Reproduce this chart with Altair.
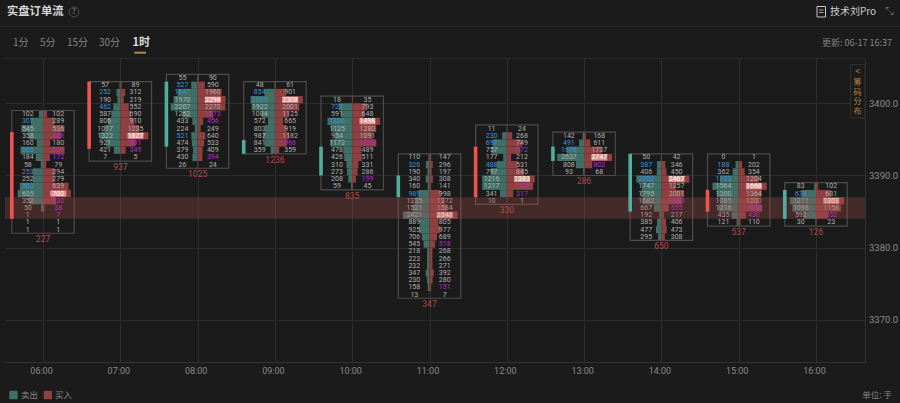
import altair as alt
import pandas as pd

BG = "#1b1b1b"
hours = [6, 7, 8, 9, 10, 11, 12, 13, 14, 15, 16]
tops = [3399, 3403, 3404, 3403, 3401, 3393, 3397, 3396, 3393, 3393, 3389]
deltas = [227, 937, 1025, 1236, 835, 347, 330, 286, 650, 537, 126]
body_top = [3396, 3403, 3403, 3394.9, 3394, 3390, 3394, 3394, 3393, 3388, 3388]
body_low = [3384, 3393.7, 3394, 3393, 3390, 3387, 3387, 3392, 3385, 3385, 3384]
body_side = ["up", "up", "down", "down", "down", "down", "up", "down", "down", "up", "down"]

sell = [
    [102, 307, 545, 358, 160, 565, 184, 58, 253, 252, 583, 635, 352, 50, 1, 1, 1],
    [57, 252, 190, 462, 587, 806, 1017, 1322, 921, 421, 7],
    [55, 527, 1647, 1970, 2207, 1262, 433, 224, 521, 474, 379, 430, 26],
    [48, 854, 2009, 1922, 1084, 572, 803, 987, 841, 359],
    [18, 722, 591, 1326, 1125, 954, 1172, 478, 426, 310, 273, 208, 59],
    [110, 326, 190, 340, 160, 989, 1325, 1521, 2421, 889, 925, 706, 545, 218, 223, 232, 347, 230, 158, 13],
    [11, 230, 697, 757, 177, 488, 797, 1216, 1217, 341, 10],
    [142, 491, 1676, 2637, 808, 93],
    [50, 387, 406, 2202, 1747, 1795, 1682, 667, 192, 385, 477, 295],
    [0, 188, 362, 1123, 1564, 1300, 1085, 1216, 435, 121],
    [83, 678, 1211, 1098, 592, 30],
]
buy = [
    [102, 289, 536, 446, 180, 539, 172, 79, 294, 279, 639, 702, 330, 38, 7, 1, 1],
    [89, 312, 219, 552, 690, 910, 1235, 1827, 991, 349, 5],
    [90, 590, 1960, 2298, 2270, 1273, 456, 249, 640, 533, 409, 394, 24],
    [61, 901, 2308, 2001, 1125, 665, 919, 1182, 966, 359],
    [35, 793, 648, 1498, 1280, 1091, 1293, 489, 511, 331, 286, 199, 45],
    [147, 296, 197, 308, 141, 998, 1372, 1584, 2548, 805, 977, 689, 518, 268, 266, 271, 392, 280, 151, 7],
    [24, 268, 749, 672, 212, 531, 845, 1383, 1300, 317, 1],
    [168, 611, 1737, 2747, 802, 68],
    [42, 346, 450, 2467, 1257, 2001, 1823, 655, 217, 406, 473, 308],
    [1, 202, 354, 1204, 1668, 1364, 1200, 1398, 430, 110],
    [102, 681, 1303, 1158, 552, 23],
]
blue_rows = [[1, 5, 8, 10], [1, 3], [1, 2, 8], [1, 2], [1, 3], [1, 5], [1, 2, 5], [1, 2], [1, 3], [1, 3], [1]]
purple_rows = [[3, 5, 6, 12, 13, 14], [8, 9], [5, 6, 11], [8], [6, 11], [12, 18], [3, 8, 9], [4], [6, 7], [7, 8], [4]]
band_top, band_low = 3387, 3384
y_ticks = [3370, 3380, 3390, 3400]

C_SELL, C_BUY = "#3f6f66", "#8f3f40"
TONES = {"plain": "#b0b0b0", "blue": "#3b93dc", "purple": "#b52bcf", "peak": "#ffffff"}
SIDES = {"sell": C_SELL, "buy": C_BUY, "up": "#f0544f", "down": "#52ae9c"}
PX = 77.3
BAR_W, TXT_OFF, BOX_HALF = 28 / PX, 15.2 / PX, 31.2 / PX
BODY_A, BODY_B = 33 / PX, 29.4 / PX
PEAK_HALF = 8 / PX

bars, labels, peaks, boxes, bodies = [], [], [], [], []
for i, h in enumerate(hours):
    peak = max(max(sell[i]), max(buy[i]))
    top = tops[i]
    n = len(sell[i])
    boxes.append({"x": h - BOX_HALF, "x2": h + BOX_HALF, "y": top, "y2": top - n,
                  "hx": h, "delta": str(deltas[i])})
    bodies.append({"x": h - BODY_A, "x2": h - BODY_B, "y": body_top[i], "y2": body_low[i], "c": SIDES[body_side[i]]})
    for r in range(n):
        s, b = sell[i][r], buy[i][r]
        ytop, ylow, ymid = top - r, top - r - 1, top - r - 0.5
        bars.append({"x": h - s / peak * BAR_W, "x2": h, "y": ytop, "y2": ylow, "c": C_SELL})
        bars.append({"x": h, "x2": h + b / peak * BAR_W, "y": ytop, "y2": ylow, "c": C_BUY})
        labels.append({"x": h - TXT_OFF, "y": ymid, "t": str(s), "c": TONES["blue" if r in blue_rows[i] else "plain"]})
        is_peak = b == max(buy[i])
        tone = "peak" if is_peak else ("purple" if r in purple_rows[i] else "plain")
        labels.append({"x": h + TXT_OFF, "y": ymid, "t": str(b), "c": TONES[tone]})
        if is_peak:
            peaks.append({"x": h + TXT_OFF - PEAK_HALF, "x2": h + TXT_OFF + PEAK_HALF, "y": ymid + 0.42, "y2": ymid - 0.42})

xs = alt.Scale(domain=[5.508, 16.634], nice=False, zero=False)
ys = alt.Scale(domain=[3364.17, 3406.27], nice=False, zero=False)
x_axis = alt.Axis(values=hours, title=None, grid=True, gridColor="#2d2d2d", gridWidth=1, domainColor="#333333",
                  ticks=False, labelColor="#8a8a8a", labelFont="Roboto", labelFontSize=9, labelPadding=4,
                  labelOffset=-2, labelExpr="(datum.value<10?'0':'')+datum.value+':00'")
y_axis = alt.Axis(values=y_ticks, title=None, orient="right", grid=True, gridColor="#2d2d2d", gridWidth=1,
                  domainColor="#333333", ticks=False, labelColor="#8a8a8a", labelFont="Roboto", labelFontSize=9.5,
                  labelPadding=3.5, format=".1f")
XN = lambda f: alt.X(f, type="quantitative", scale=xs, axis=x_axis)
YN = lambda f: alt.Y(f, type="quantitative", scale=ys, axis=y_axis)

bars_l = alt.Chart(pd.DataFrame(bars)).mark_rect().encode(
    x=XN("x"), x2="x2", y=YN("y"), y2="y2", color=alt.Color("c:N", scale=None))

boxes_df = pd.DataFrame(boxes)
box_l = alt.Chart(boxes_df).mark_rect(fill=None, stroke="#4c4c4c", strokeWidth=1.2).encode(
    x=XN("x"), x2="x2", y=YN("y"), y2="y2")
delta_l = alt.Chart(boxes_df).mark_text(font="Roboto", fontSize=8.5, color="#b5494b", dy=6).encode(
    x=XN("hx"), y=YN("y2"), text="delta:N")
peak_l = alt.Chart(pd.DataFrame(peaks)).mark_rect(fill="#eeaaa6", opacity=0.8).encode(
    x=XN("x"), x2="x2", y=YN("y"), y2="y2")
text_l = alt.Chart(pd.DataFrame(labels)).mark_text(font="Roboto", fontSize=7).encode(
    x=XN("x"), y=YN("y"), text="t:N", color=alt.Color("c:N", scale=None))
band_l = alt.Chart(pd.DataFrame([{"y": band_top, "y2": band_low}])).mark_rect(fill="#aa5050", opacity=0.3).encode(
    x=alt.value(0), x2=alt.value(860), y=YN("y"), y2="y2")
body_l = alt.Chart(pd.DataFrame(bodies)).mark_rect().encode(
    x=XN("x"), x2="x2", y=YN("y"), y2="y2", color=alt.Color("c:N", scale=None))

OX, OY = 5, 58


def one():
    return alt.Data(values=[{"a": 1}])


def txt(s, x, y, size, color, align="left", weight="normal", font="Noto Sans CJK SC"):
    return alt.Chart(one()).mark_text(text=s, fontSize=size, color=color, align=align, baseline="middle",
                                      fontWeight=weight, font=font).encode(
        x=alt.value(x - OX), y=alt.value(y - OY))


def line(x1, y1, x2, y2, color, w=1):
    return alt.Chart(one()).mark_rule(color=color, strokeWidth=w).encode(
        x=alt.value(x1 - OX), x2=alt.value(x2 - OX), y=alt.value(y1 - OY), y2=alt.value(y2 - OY))


def box(x1, y1, x2, y2, fill, stroke=None, radius=0):
    args = {"fill": fill, "cornerRadius": radius}
    if stroke:
        args["stroke"] = stroke
    return alt.Chart(one()).mark_rect(**args).encode(
        x=alt.value(x1 - OX), x2=alt.value(x2 - OX), y=alt.value(y1 - OY), y2=alt.value(y2 - OY))


decor = [
    line(0, 26.5, 900, 26.5, "#232323"),
    line(5, 58.5, 865, 58.5, "#2a2a2a"),
    txt("实盘订单流", 7, 12, 11.3, "#d6d6d6", weight="bold"),
    alt.Chart(one()).mark_point(shape="circle", size=95, stroke="#777777", strokeWidth=0.8, filled=False).encode(
        x=alt.value(74 - OX), y=alt.value(12 - OY)),
    txt("?", 74, 12, 8, "#888888", align="center"),
    txt("1分", 13, 43, 10, "#868686"),
    txt("5分", 40, 43, 10, "#868686"),
    txt("15分", 67, 43, 10, "#868686"),
    txt("30分", 99, 43, 10, "#868686"),
    txt("1时", 132.5, 43, 11, "#dddddd", weight="bold"),
    line(134.3, 52.7, 146, 52.7, "#b08a50", 2),
    box(817, 6.5, 825.5, 17, BG, "#c8c8c8"),
    line(819, 10, 823.5, 10, "#c8c8c8", 0.8),
    line(819, 12.5, 823.5, 12.5, "#c8c8c8", 0.8),
    txt("技术刘Pro", 830, 11.5, 10, "#cccccc"),
    txt("⤡", 889, 11.5, 11, "#666666", align="center"),
    txt("更新: 06-17 16:37", 892, 43, 9, "#858585", align="right"),
    box(850.5, 64.5, 865, 118, BG, "#303030"),
    txt("<", 857.5, 71, 9, "#b8863c", align="center"),
    txt("筹", 857.5, 82.5, 8, "#b8863c", align="center"),
    txt("码", 857.5, 92.5, 8, "#b8863c", align="center"),
    txt("分", 857.5, 102, 8, "#b8863c", align="center"),
    txt("布", 857.5, 111.5, 8, "#b8863c", align="center"),
    box(9.3, 390.7, 17.7, 399.3, C_SELL, radius=1),
    txt("卖出", 21, 395, 8.5, "#858585"),
    box(43.7, 390.7, 52, 399.3, C_BUY, radius=1),
    txt("买入", 55, 395, 8.5, "#858585"),
    txt("单位: 手", 892, 395, 8.5, "#858585", align="right"),
]

chart = alt.layer(bars_l, box_l, peak_l, text_l, delta_l, band_l, body_l, *decor).properties(
    width=860, height=304, background=BG,
    padding={"left": OX, "top": OY, "right": 35, "bottom": 41},
    autosize=alt.AutoSizeParams(type="none"),
).configure_view(stroke=None)

chart.save("out.html", embed_options={"renderer": "svg", "actions": False,
                                      "defaultStyle": "html,body{background:#1b1b1b;margin:0;overflow:hidden}"})
